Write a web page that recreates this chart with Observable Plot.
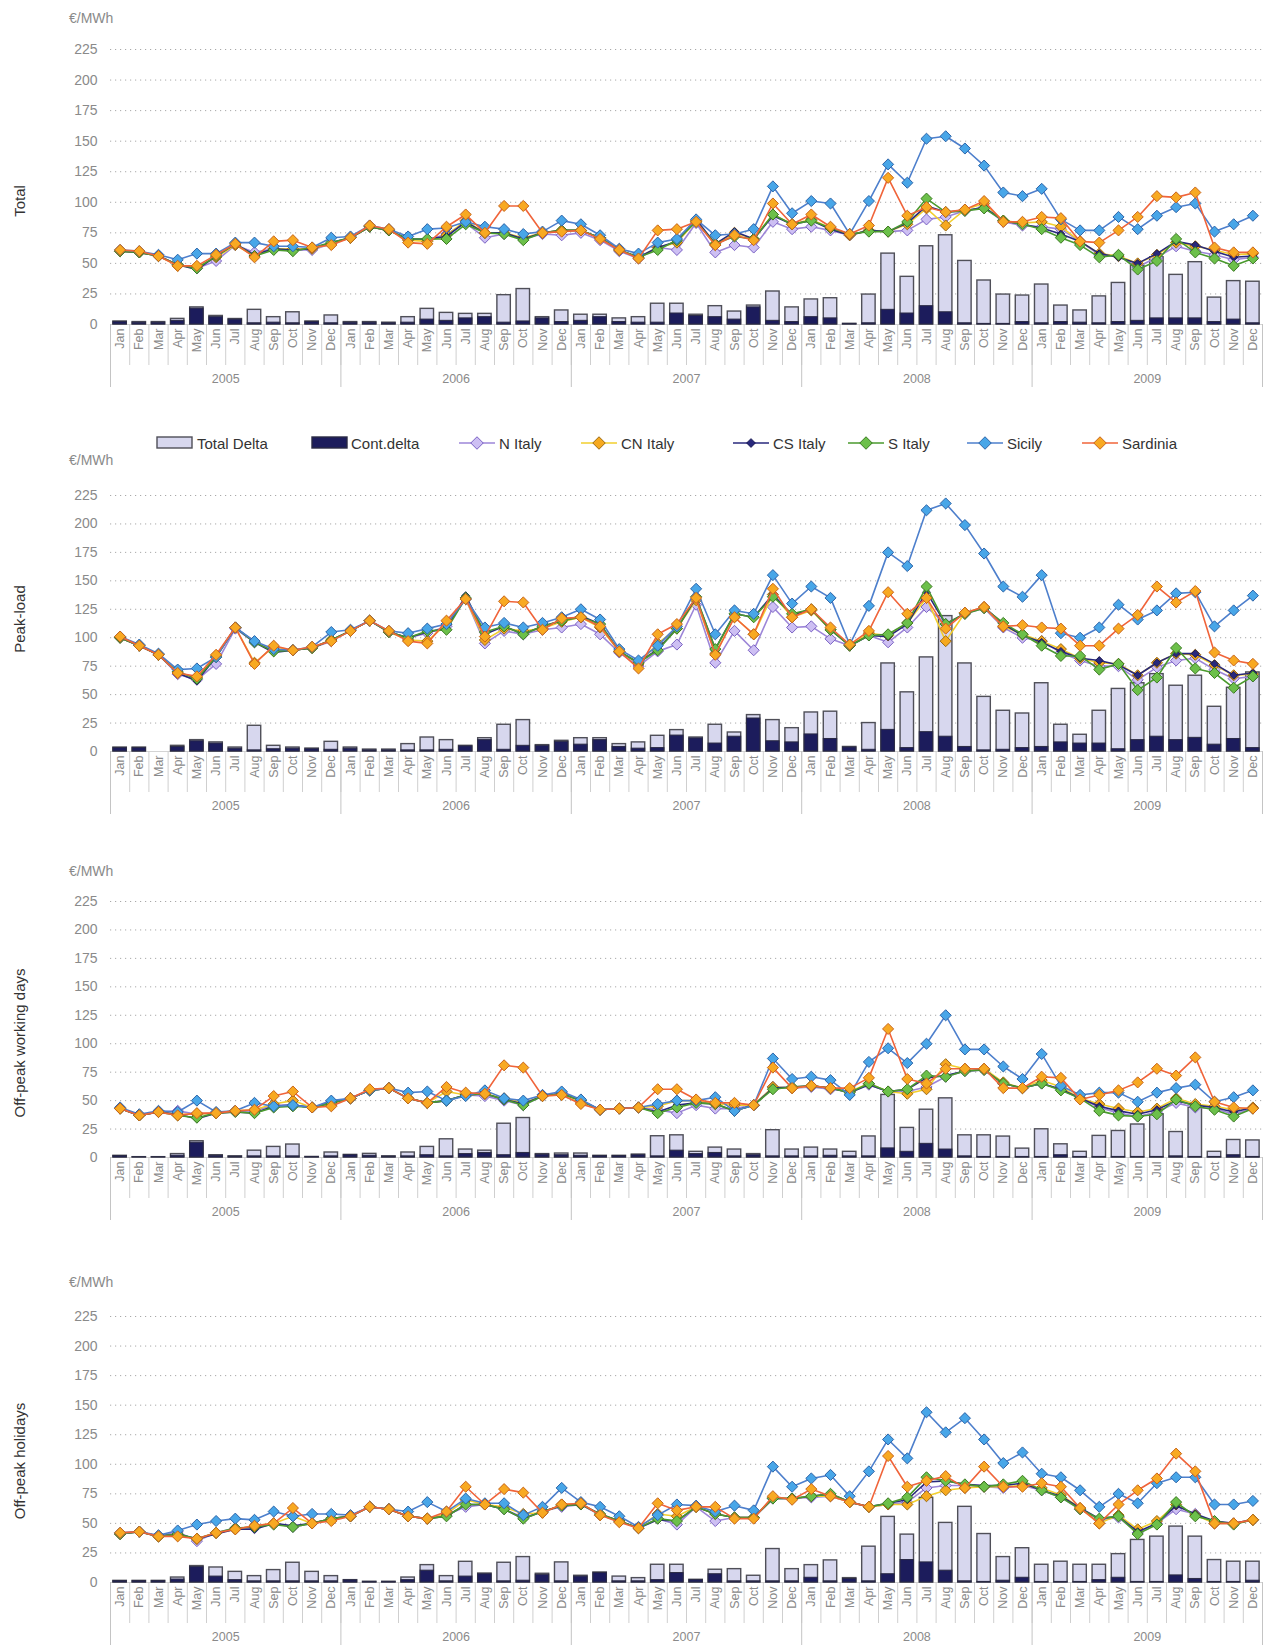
<!DOCTYPE html>
<html>
<head>
<meta charset="utf-8">
<script src="https://cdn.jsdelivr.net/npm/d3@7"></script>
<script src="https://cdn.jsdelivr.net/npm/@observablehq/plot@0.6"></script>
<style>
  html, body { margin: 0; padding: 0; background: #fff; }
  #page { position: relative; width: 1271px; height: 1648px; overflow: hidden; background: #fff;
          font-family: "Liberation Sans", Arial, sans-serif; }
  .panel { position: absolute; left: 0; }
  .unit { position: absolute; font-size: 14px; color: #8a8a8a; transform: translateY(-50%); }
  .ytitle { position: absolute; font-size: 15px; color: #333; white-space: nowrap;
            transform: translate(-50%, -50%) rotate(-90deg); }
  .lg { position: absolute; }
  .lgt { position: absolute; font-size: 15px; color: #333; white-space: nowrap; transform: translateY(-50%); }
</style>
</head>
<body>
<div id="page"></div>
<script>
// ---------- categories ----------
const months = ["Jan","Feb","Mar","Apr","May","Jun","Jul","Aug","Sep","Oct","Nov","Dec"];
const years = ["2005","2006","2007","2008","2009"];
const yTicks = [0,25,50,75,100,125,150,175,200,225];
const seriesNames = ["N Italy","CN Italy","CS Italy","S Italy","Sicily","Sardinia"];
const panelTitles = ["Total","Peak-load","Off-peak working days","Off-peak holidays"];

// ---------- Total ----------
const totalTD  = [2.5,2,2,4.6,14,7,4.5,12,6,10,2.5,7.4, 2,2,1.5,6,12.8,9.5,8.7,8.7,24,29,6,11.5, 8,8,5,6,17,17,8,15,10.6,15.5,27,14, 20.5,21.5,0.5,24.5,58,39,64,73,52,36,24.5,23.7, 32.7,15.5,11.5,23,34,48,55,40.6,51,22,35.5,35];
const totalCD  = [2,1.5,1.5,3,13,6,4,1,1.5,1,2,1, 1.5,1.5,1,1.5,4,3,5,6,1.5,2.5,5,2, 3,6,2,1.5,1.5,9,7,6,4,14,3,2, 6,5,0.5,1,12,9,15,10,1,0.5,0.5,2, 1,2,1.5,1,2,3,5,5,5,2,4,1];
const totalN   = [60,59,56,49,46,52,65,59,62,61,61,66, 71,80,77,70,69,74,83,71,74,70,74,73, 75,69,60,54,63,61,83,59,65,63,84,78, 80,77,73,77,76,77,86,88,93,96,84,81, 80,78,68,57,56,47,55,64,60,57,53,55];
const totalCN  = [60,59,56,48,47,55,65,56,62,62,62,66, 71,80,77,69,68,73,85,75,75,71,75,77, 77,71,61,55,63,67,85,65,75,70,90,82, 86,79,73,77,76,82,95,81,94,99,85,83, 84,80,68,58,56,50,57,67,64,61,57,58];
const totalCS  = [60,59,56,49,45,56,66,57,62,61,62,67, 71,80,77,70,70,72,84,75,75,70,75,77, 77,71,61,55,63,68,86,66,76,70,89,82, 85,78,73,77,76,83,97,92,93,96,85,82, 79,74,68,58,55,50,58,68,65,60,55,56];
const totalS   = [60,59,56,49,46,56,66,56,61,60,63,67, 71,80,77,70,70,70,82,75,74,69,75,77, 77,71,61,55,61,69,84,66,72,70,90,82, 85,79,74,76,76,84,103,92,93,95,85,82, 78,71,65,55,57,45,52,70,59,54,48,54];
const totalSic = [61,60,57,53,58,58,67,67,64,64,63,71, 72,81,78,72,78,79,84,80,78,74,76,85, 82,73,62,58,67,70,86,73,74,78,113,91, 101,99,74,101,131,116,152,154,144,130,108,105, 111,86,77,77,88,78,89,96,99,76,82,89];
const totalSar = [61,60,56,48,48,57,66,55,68,69,63,65, 71,81,78,67,66,80,90,75,97,97,75,76, 77,70,61,54,77,78,84,65,73,69,99,82, 90,80,74,81,120,89,96,92,94,101,84,84, 88,87,68,67,77,88,105,104,108,63,59,59];

// ---------- Peak-load ----------
const peakTD  = [3.5,3.5,0,5,10,8,3.5,22.6,5,3.5,2.6,8.5, 3.5,1.7,1.7,6.5,12.3,10,5,11.7,23.5,27.6,5.6,9.4, 11.7,11.7,6.5,8,13.8,18.8,12.3,23.5,16.7,32,27.6,20.5, 34.3,35,4,25,77.4,52,82.7,119,77.4,48,35.8,33.4, 60,23.5,14.7,35.8,55,60,68,57.8,66.6,39.3,56,69.5];
const peakCD  = [3,3,0,4,9,7,2.5,1,2,2.5,2,1.5, 2.5,1,1,1,1,1.5,4.5,10,1.5,5,5,8.5, 6,10,4,2.5,3,14,11.5,7,13,29,9,8, 15,11,3.5,1.5,19,3,17,13,4,1,1.5,3, 4,8,7,7,2,10,13,10,12,6,11,3];
const peakN   = [100,93,85,68,63,77,108,96,89,89,91,97, 106,115,105,100,104,110,134,95,106,103,107,109, 112,103,87,75,88,94,129,78,106,89,127,109, 110,99,93,102,96,109,127,112,121,126,109,100, 97,87,80,75,75,63,74,80,82,72,64,66];
const peakCN  = [100,93,85,69,65,84,109,78,92,89,91,98, 106,115,105,98,97,112,134,98,108,106,108,114, 118,109,88,77,95,108,133,86,118,103,138,118, 124,107,93,104,102,113,135,97,122,127,110,103, 97,90,82,78,77,67,78,86,85,76,67,68];
const peakCS  = [100,93,85,69,62,83,109,96,87,89,91,98, 106,115,105,100,105,108,137,103,110,103,110,115, 119,112,88,78,90,108,135,90,121,118,138,120, 125,107,93,102,101,112,140,112,121,127,112,102, 96,88,82,80,76,67,78,86,86,77,67,69];
const peakS   = [100,93,85,70,64,83,109,96,88,89,91,98, 106,115,105,100,106,107,135,105,110,103,110,115, 118,112,88,78,89,108,136,90,121,118,136,121, 125,107,93,102,103,113,145,112,121,126,113,103, 93,84,84,72,77,54,65,91,73,69,56,66];
const peakSic = [101,94,86,72,73,83,109,97,90,89,92,105, 107,115,106,104,108,112,134,109,113,109,113,118, 125,116,90,80,93,110,143,103,124,121,155,130, 145,135,94,128,175,163,212,218,199,174,145,136, 155,104,100,109,129,116,124,139,140,110,124,137];
const peakSar = [101,93,85,69,66,85,109,77,93,89,92,97, 106,115,106,97,95,115,134,101,132,131,107,117, 118,110,88,73,103,112,135,85,118,103,143,118, 125,109,94,106,140,121,135,108,122,127,110,111, 109,108,93,93,108,120,145,131,141,87,80,77];

// ---------- Off-peak working days ----------
const opwTD  = [1.5,0.3,0.3,3,14.3,2,1,6,9.3,11.4,0.5,4.4, 2.3,3.2,1,4.4,9.3,16,7,6,29.7,34.7,3,3.5, 3.5,1.5,1.5,2.6,18.7,19.5,5,8.7,7,3,24,7, 8.7,7,5,18.5,55,26,42,52,19.5,19.5,18.4,7.8, 24.8,11.6,5,19,23.3,29,38,22.4,43.7,5,15.4,15];
const opwCD  = [1.3,0.2,0.2,1.5,13,1.5,0.8,1,1,1,0.4,1, 2,1.5,0.8,1,2,1,3,4,2,4,2.5,2, 1.5,1.3,1.3,2,1,6,3,4,1,2,1,1, 1,1.5,1,1,8,5,12,7,1,0.5,0.5,0.5, 0.5,2,0.5,0.5,0.5,0.5,0.5,1,0.5,0.5,2,0.5];
const opwN   = [43,37,40,41,38,39,41,41,46,46,44,49, 52,59,61,52,48,50,55,54,50,46,54,57, 50,42,43,44,42,39,46,43,43,46,62,61, 62,60,58,64,58,58,62,71,76,77,65,61, 65,60,52,44,39,36,40,48,44,43,38,43];
const opwCN  = [43,37,40,38,38,39,41,42,47,50,44,46, 52,59,61,52,48,58,55,56,52,48,54,55, 48,42,43,44,45,50,50,47,46,46,62,61, 63,61,58,65,58,56,60,82,78,78,66,61, 68,62,52,47,43,40,43,52,47,45,42,44];
const opwCS  = [43,37,40,38,34,39,40,39,45,46,44,48, 52,59,61,52,48,50,55,56,51,47,54,56, 50,42,43,44,40,46,48,47,41,46,61,62, 63,61,57,64,58,60,70,72,76,77,65,61, 65,60,52,45,41,38,42,50,46,44,40,44];
const opwS   = [43,37,40,37,35,39,40,39,44,45,44,48, 52,59,61,52,48,50,55,56,51,46,54,56, 50,42,43,44,39,44,48,47,41,46,60,62, 63,61,57,65,58,60,72,71,76,77,65,61, 65,59,52,41,37,36,38,51,45,42,36,43];
const opwSic = [44,38,41,40,50,40,41,48,45,46,44,50, 52,59,61,57,58,50,54,59,52,50,55,58, 51,42,43,44,47,50,50,53,41,46,87,69, 71,68,55,84,96,83,100,125,95,95,80,69, 91,63,55,57,57,49,57,61,64,49,53,59];
const opwSar = [43,37,40,37,39,39,41,42,54,58,44,45, 52,60,61,52,48,62,57,56,81,79,54,55, 47,42,43,44,60,60,51,48,48,46,79,61, 63,61,61,70,113,69,65,78,78,78,61,61, 71,70,51,55,59,66,78,72,88,49,44,43];

// ---------- Off-peak holidays ----------
const ophTD  = [1.4,1.4,1.4,4.2,13.9,12.7,9,5.4,10.5,16.7,9,5.4, 2,0.6,0.6,4.2,14.7,5.4,17.5,7.6,16.7,21.5,7.4,17, 5.7,8.5,5,3.7,15,15,2.3,10.8,11.3,5.7,28.3,11.3, 14.7,18.7,3.7,30.3,55.5,40.5,71.6,50.4,64,41,21.5,29, 15,17.6,15,15,24,36,38.8,47.3,38.8,19,17.6,17.6];
const ophCD  = [1.2,1.2,1.2,2.5,13,5,2,1,1,1,1,1, 1.8,0.5,0.5,2,10,1,5,7,1,1.5,6.5,1, 5,8,1,1,2,8,2,7,1,1,1,1, 4,1,3,1,7,19,17,10,1,0.5,1.5,4, 0.5,0.5,0.5,2,4,0.5,0.5,6,3,0.5,0.5,1.5];
const ophN   = [41,43,39,43,35,42,46,46,50,47,50,54, 56,64,62,56,54,57,64,66,62,55,60,64, 66,57,52,46,54,49,64,52,55,55,71,71, 72,73,68,64,66,68,80,82,82,81,80,82, 78,72,62,53,55,42,50,62,58,50,50,53];
const ophCN  = [41,43,39,40,37,42,45,48,50,56,50,54, 56,64,62,56,54,58,70,66,64,58,59,66, 67,57,52,46,58,56,64,58,55,55,72,71, 73,73,68,64,66,66,73,78,80,81,81,82, 80,74,63,50,57,45,52,66,57,50,50,53];
const ophCS  = [41,43,39,41,37,41,45,45,50,48,50,54, 56,64,62,56,54,56,66,66,62,54,60,65, 66,58,52,46,53,52,64,58,55,55,71,71, 73,75,68,64,67,70,85,86,83,82,82,84, 78,73,63,54,56,43,50,65,58,52,50,53];
const ophS   = [41,43,39,41,37,42,46,47,49,47,50,54, 56,64,62,56,54,56,66,66,62,54,60,65, 66,58,52,46,54,52,64,58,55,55,71,71, 73,75,68,64,67,72,89,86,83,81,83,86, 78,72,62,54,56,41,49,68,56,52,49,53];
const ophSic = [42,43,40,44,49,52,54,53,60,56,58,58, 57,64,62,60,68,60,71,67,67,57,64,80, 68,64,56,47,57,66,65,60,65,61,98,81, 88,91,73,94,121,105,144,127,139,121,101,110, 92,89,78,64,75,67,84,89,89,66,66,69];
const ophSar = [42,43,39,39,37,42,45,48,50,63,50,52, 56,64,62,56,54,60,81,66,79,76,59,66, 67,57,51,46,67,61,64,64,54,54,73,70, 79,73,68,64,107,81,86,90,80,98,81,81, 84,81,63,50,66,78,88,109,94,50,50,53];

// ---------- styles ----------
const barStyle = {
  td: {fill: "#d7d7ee", stroke: "#4f4f58"},
  cd: {fill: "#1c1c5c", stroke: "#2a2a44"}
};
const lineStyles = [
  {line: "#9d86d8", fill: "#cdbff3", stroke: "#7a62c4", r: 5},
  {line: "#f2cf2e", fill: "#f6a91f", stroke: "#9c6a12", r: 5},
  {line: "#28287c", fill: "#28287c", stroke: "#1a1a55", r: 3.5},
  {line: "#4a9a2e", fill: "#6cc04a", stroke: "#3b7a22", r: 5},
  {line: "#4d7fcc", fill: "#48a6e8", stroke: "#2d64a8", r: 5},
  {line: "#f0643a", fill: "#f8a922", stroke: "#c8641a", r: 5}
];

const keys = years.flatMap(y => months.map(m => m + " " + y));
const janKeys = keys.filter(k => k.startsWith("Jan"));
const junKeys = keys.filter(k => k.startsWith("Jun"));
const lastKey = keys[keys.length - 1];

const W = 1271, ML = 110, MR = 9;
const STEP = (W - ML - MR) / keys.length;

const panels = [
  {title: panelTitles[0], y225: 49,  y0: 324,  unitY: 18,   titleY: 201, td: totalTD, cd: totalCD, s: [totalN,totalCN,totalCS,totalS,totalSic,totalSar]},
  {title: panelTitles[1], y225: 495, y0: 751,  unitY: 460,  titleY: 619, td: peakTD,  cd: peakCD,  s: [peakN,peakCN,peakCS,peakS,peakSic,peakSar]},
  {title: panelTitles[2], y225: 901, y0: 1157, unitY: 871,  titleY: 1043, td: opwTD, cd: opwCD, s: [opwN,opwCN,opwCS,opwS,opwSic,opwSar]},
  {title: panelTitles[3], y225: 1316, y0: 1582, unitY: 1282, titleY: 1461, td: ophTD, cd: ophCD, s: [ophN,ophCN,ophCS,ophS,ophSic,ophSar]}
];

const page = document.getElementById("page");

function makePanel(p) {
  const mt = 20, mb = 66;
  const h = p.y0 - p.y225;
  const data = keys.map((k, i) => {
    const row = {key: k, td: p.td[i], cd: p.cd[i]};
    seriesNames.forEach((n, j) => row[n] = p.s[j][i]);
    return row;
  });
  const sepColor = "#cfcfcf";
  const marks = [
    Plot.gridY(yTicks.filter(t => t > 0), {stroke: "#9a9a9a", strokeOpacity: 0.85, strokeDasharray: "1.2,3.8"}),
    Plot.ruleY([0], {stroke: "#d4d4d4"}),
    Plot.axisY({ticks: yTicks, tickSize: 0, tickPadding: 13, fontSize: 14, label: null}),
    // month separators
    Plot.axisX({ticks: keys, tickSize: 41, tickFormat: () => "", dx: -STEP / 2, stroke: sepColor, label: null}),
    Plot.axisX({ticks: [lastKey], tickSize: 41, tickFormat: () => "", dx: STEP / 2, stroke: sepColor, label: null}),
    // year separators
    Plot.axisX({ticks: janKeys, tickSize: 63, tickFormat: () => "", dx: -STEP / 2, stroke: "#c4c4c4", label: null}),
    Plot.axisX({ticks: [lastKey], tickSize: 63, tickFormat: () => "", dx: STEP / 2, stroke: "#c4c4c4", label: null}),
    // month labels
    Plot.axisX({ticks: keys, tickRotate: -90, tickSize: 0, tickPadding: 4, tickFormat: k => k.slice(0, 3), fontSize: 12.5, label: null}),
    // year labels
    Plot.axisX({ticks: junKeys, tickSize: 0, tickPadding: 50, tickFormat: k => k.slice(4), dx: STEP / 2, fontSize: 12.5, label: null}),
    Plot.barY(data, {x: "key", y: "td", fill: barStyle.td.fill, stroke: barStyle.td.stroke, strokeWidth: 1.4}),
    Plot.barY(data, {x: "key", y: "cd", fill: barStyle.cd.fill, stroke: barStyle.cd.stroke, strokeWidth: 1}),
    ...seriesNames.flatMap((n, j) => [
      Plot.line(data, {x: "key", y: n, stroke: lineStyles[j].line, strokeWidth: 1.6}),
      Plot.dot(data, {x: "key", y: n, symbol: "diamond2", r: lineStyles[j].r, fill: lineStyles[j].fill, stroke: lineStyles[j].stroke, strokeWidth: 1})
    ])
  ];
  const svg = Plot.plot({
    width: W, height: mt + h + mb,
    marginTop: mt, marginBottom: mb, marginLeft: ML, marginRight: MR,
    x: {type: "band", domain: keys, paddingInner: 0.3, paddingOuter: 0.15, round: false, axis: null},
    y: {domain: [0, 225], axis: null},
    style: {fontFamily: "Liberation Sans, Arial, sans-serif", color: "#8a8a8a", background: "transparent", overflow: "visible"},
    marks
  });
  const wrap = document.createElement("div");
  wrap.className = "panel";
  wrap.style.top = (p.y225 - mt) + "px";
  wrap.appendChild(svg);
  page.appendChild(wrap);

  const u = document.createElement("div");
  u.className = "unit"; u.textContent = "€/MWh";
  u.style.left = "69px"; u.style.top = p.unitY + "px";
  page.appendChild(u);

  const t = document.createElement("div");
  t.className = "ytitle"; t.textContent = p.title;
  t.style.left = "19px"; t.style.top = p.titleY + "px";
  page.appendChild(t);
}
panels.forEach(makePanel);

// ---------- legend ----------
const LY = 443;
const legendItems = [
  {kind: "bar", x: 156, tx: 197, label: "Total Delta", style: barStyle.td},
  {kind: "bar", x: 311, tx: 351, label: "Cont.delta", style: barStyle.cd},
  ...seriesNames.map((n, j) => ({kind: "line", x: [459, 581, 733, 848, 967, 1082][j], tx: [499, 621, 773, 888, 1007, 1122][j], label: n, style: lineStyles[j]}))
];
const NS = "http://www.w3.org/2000/svg";
legendItems.forEach(it => {
  const svg = document.createElementNS(NS, "svg");
  svg.setAttribute("class", "lg");
  svg.setAttribute("width", 38); svg.setAttribute("height", 16);
  svg.style.left = it.x + "px"; svg.style.top = (LY - 8) + "px";
  if (it.kind === "bar") {
    const r = document.createElementNS(NS, "rect");
    r.setAttribute("x", 1); r.setAttribute("y", 2); r.setAttribute("width", 35); r.setAttribute("height", 11);
    r.setAttribute("fill", it.style.fill); r.setAttribute("stroke", it.style.stroke); r.setAttribute("stroke-width", 1.4);
    svg.appendChild(r);
  } else {
    const l = document.createElementNS(NS, "line");
    l.setAttribute("x1", 0); l.setAttribute("x2", 36); l.setAttribute("y1", 8); l.setAttribute("y2", 8);
    l.setAttribute("stroke", it.style.line); l.setAttribute("stroke-width", 1.6);
    svg.appendChild(l);
    const d = it.style.r * 1.25;
    const pg = document.createElementNS(NS, "polygon");
    pg.setAttribute("points", `18,${8 - d} ${18 + d},8 18,${8 + d} ${18 - d},8`);
    pg.setAttribute("fill", it.style.fill); pg.setAttribute("stroke", it.style.stroke); pg.setAttribute("stroke-width", 1);
    svg.appendChild(pg);
  }
  page.appendChild(svg);
  const t = document.createElement("div");
  t.className = "lgt"; t.textContent = it.label;
  t.style.left = it.tx + "px"; t.style.top = LY + "px";
  page.appendChild(t);
});
</script>
</body>
</html>
